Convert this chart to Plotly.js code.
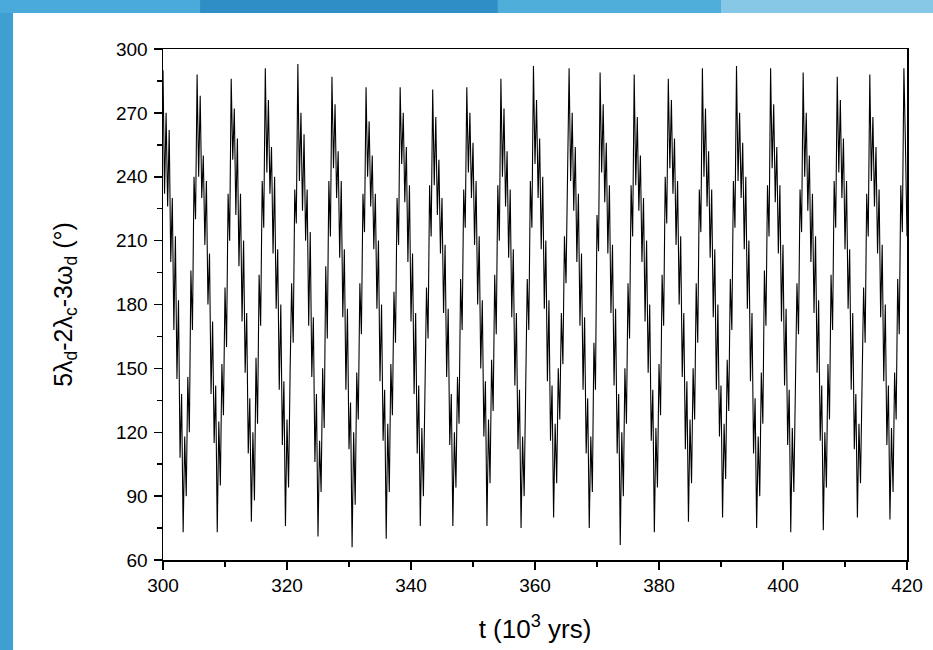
<!DOCTYPE html>
<html>
<head>
<meta charset="utf-8">
<script src="https://cdn.plot.ly/plotly-3.0.1.min.js"></script>
<style>
html,body{margin:0;padding:0;background:#3f9fd2;}
#chart{width:933px;height:650px;}
</style>
</head>
<body>
<div id="chart"></div>
<script>
// Sampling of the time series (t in 10^3 yrs)
const tStart = 300;
const tStep = 0.25;

// Resonant angle 5λd-2λc-3ωd (degrees), one row per libration cycle
const angle = [
  290,232,270,226,262,200,230,168,212,145,182,108,138,73,118,90,146,120,196,168,240,220,
  288,240,278,230,250,208,238,180,204,138,172,115,142,73,125,95,152,128,188,160,232,210,
  286,248,272,222,258,198,232,172,210,148,176,110,136,78,120,88,155,124,194,170,238,216,
  291,242,276,232,254,204,240,178,206,140,180,114,144,76,126,94,148,190,162,234,218,
  293,238,270,224,260,210,234,170,214,146,174,106,138,71,116,92,150,122,198,164,238,212,
  287,244,274,230,252,202,238,174,206,140,178,112,134,66,120,86,148,126,190,166,232,214,
  282,240,266,226,250,206,232,178,210,144,180,116,140,70,124,92,152,128,186,162,230,208,
  282,246,270,228,254,200,236,172,204,138,176,110,142,76,122,90,150,188,164,236,212,
  281,236,268,222,248,204,230,176,208,146,178,114,138,76,120,94,146,124,192,168,234,216,
  282,242,270,230,256,208,238,180,212,150,182,118,144,76,126,96,154,130,194,166,236,210,
  286,240,272,226,252,202,234,174,206,142,176,112,140,75,118,90,148,192,168,238,216,
  292,246,276,230,258,206,240,178,210,144,182,116,142,80,124,96,150,126,176,152,212,190,250,
  291,238,270,224,254,200,232,170,204,140,174,110,136,75,118,92,162,140,222,205,
  289,242,274,228,256,204,236,176,208,142,178,110,138,67,120,90,150,124,190,164,236,212,
  288,236,268,224,250,200,230,172,210,148,180,116,140,73,122,94,152,128,194,170,240,218,
  286,244,276,232,258,208,238,180,212,146,176,112,144,78,126,96,150,126,190,162,234,214,
  291,240,272,226,252,202,234,174,206,140,180,118,142,80,124,98,154,130,192,168,238,216,
  292,238,270,230,256,206,240,178,210,144,176,110,136,75,118,90,148,124,196,170,236,212,
  291,244,274,228,254,204,236,172,208,142,178,114,140,73,122,92,150,190,166,234,214,
  289,240,270,224,250,200,232,176,212,148,182,116,142,74,120,94,152,126,194,168,238,216,
  287,242,276,230,258,206,238,178,206,140,176,112,138,80,124,96,150,188,162,232,212,
  288,238,268,226,254,204,234,174,208,144,180,114,142,79,122,92,148,126,192,166,236,214,
  291,255,212
];

const xTitle = 't (10<sup>3</sup> yrs)';
const yTitle = '5λ<sub>d</sub>-2λ<sub>c</sub>-3ω<sub>d</sub> (°)';

const font = 'Liberation Sans, Arial, sans-serif';

const trace = {
  type: 'scatter',
  mode: 'lines',
  x0: tStart,
  dx: tStep,
  y: angle,
  line: {color: '#000000', width: 1.1},
  hoverinfo: 'skip'
};

function axisBase() {
  return {
    showgrid: false,
    zeroline: false,
    showline: true,
    linecolor: '#000',
    linewidth: 1.5,
    mirror: true,
    ticks: 'outside',
    ticklen: 8,
    tickwidth: 1.5,
    tickcolor: '#000',
    tickfont: {family: font, size: 19, color: '#000'},
    automargin: false
  };
}

const xaxis = Object.assign(axisBase(), {
  range: [300, 420],
  tick0: 300,
  dtick: 20,
  minor: {ticks: 'outside', ticklen: 5, tickwidth: 1.5, tickcolor: '#000', dtick: 10, tick0: 300, showgrid: false},
  title: {text: xTitle, font: {family: font, size: 26, color: '#000'}, standoff: 24}
});

const yaxis = Object.assign(axisBase(), {
  range: [60, 300],
  tick0: 60,
  dtick: 30,
  ticklabelstandoff: 2,
  minor: {ticks: 'outside', ticklen: 5, tickwidth: 1.5, tickcolor: '#000', dtick: 15, tick0: 60, showgrid: false},
  title: {text: yTitle, font: {family: font, size: 25, color: '#000'}, standoff: 36}
});

// slide background: blue frame with a white panel
const shapes = [
  {type:'rect', xref:'paper', yref:'paper', x0:-0.3, x1:0.05, y0:1.0705, y1:1.2, fillcolor:'#4aaad9', line:{width:0}, layer:'below'},
  {type:'rect', xref:'paper', yref:'paper', x0:0.05, x1:0.45, y0:1.0705, y1:1.2, fillcolor:'#2f8ec6', line:{width:0}, layer:'below'},
  {type:'rect', xref:'paper', yref:'paper', x0:0.45, x1:0.75, y0:1.0705, y1:1.2, fillcolor:'#4eaed9', line:{width:0}, layer:'below'},
  {type:'rect', xref:'paper', yref:'paper', x0:0.75, x1:1.2, y0:1.0705, y1:1.2, fillcolor:'#86c8e6', line:{width:0}, layer:'below'},
  {type:'rect', xref:'paper', yref:'paper', x0:-0.2016, x1:1.2, y0:-0.3, y1:1.0705, fillcolor:'#ffffff', line:{width:0}, layer:'below'}
];

const layout = {
  width: 933,
  height: 650,
  margin: {l: 163, r: 26, t: 49, b: 90, pad: 0},
  paper_bgcolor: '#3f9fd2',
  plot_bgcolor: '#ffffff',
  showlegend: false,
  font: {family: font, color: '#000'},
  xaxis: xaxis,
  yaxis: yaxis,
  shapes: shapes
};

Plotly.newPlot('chart', [trace], layout, {displayModeBar: false, staticPlot: true});
</script>
</body>
</html>
